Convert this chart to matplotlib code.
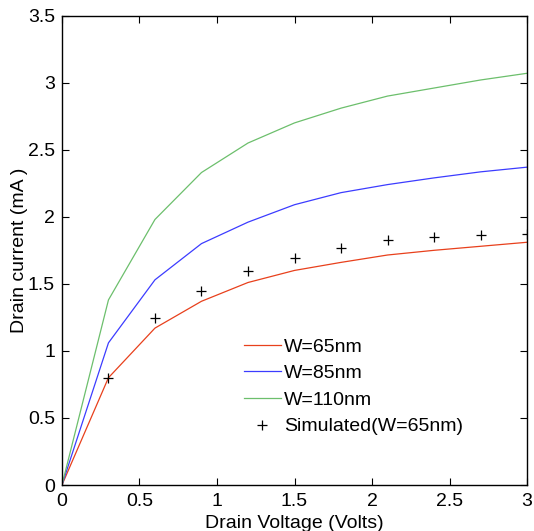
import numpy as np
from matplotlib import pyplot as plt

plt.rcParams['font.family'] = ['Liberation Sans', 'DejaVu Sans']

# drain voltage (V)
vd = [0, 0.3, 0.6, 0.9, 1.2, 1.5, 1.8, 2.1, 2.4, 2.7, 3.0]

# drain current (mA) for each width
id_65 = [0, 0.80, 1.17, 1.37, 1.51, 1.60, 1.66, 1.715, 1.75, 1.78, 1.81]
id_85 = [0, 1.06, 1.53, 1.80, 1.96, 2.09, 2.18, 2.24, 2.29, 2.335, 2.37]
id_110 = [0, 1.38, 1.98, 2.33, 2.55, 2.70, 2.81, 2.90, 2.96, 3.02, 3.07]

# simulated points (W=65nm)
vd_sim = [0.3, 0.6, 0.9, 1.2, 1.5, 1.8, 2.1, 2.4, 2.7, 3.0]
id_sim = [0.80, 1.245, 1.45, 1.595, 1.69, 1.77, 1.83, 1.85, 1.865, 1.87]

fig = plt.figure(figsize=(5.34, 5.31), dpi=100)
ax = fig.add_axes([0.116, 0.0866, 0.871, 0.884])

ax.plot(vd, id_65, color='#e8401c', lw=0.9, label='W=65nm')
ax.plot(vd, id_85, color='#3c3cff', lw=0.9, label='W=85nm')
ax.plot(vd, id_110, color='#6cbf6c', lw=0.9, label='W=110nm')
ax.plot(vd_sim, id_sim, '+', color='black', ms=7, mew=0.9, label='Simulated(W=65nm)')

ax.set_xlim(0, 3)
ax.set_ylim(0, 3.5)
ax.set_xticks(np.arange(0, 3.01, 0.5))
ax.set_yticks(np.arange(0, 3.51, 0.5))
ax.set_xticklabels(['0', '0.5', '1', '1.5', '2', '2.5', '3'])
ax.set_yticklabels(['0', '0.5', '1', '1.5', '2', '2.5', '3', '3.5'])
ax.tick_params(direction='in', top=True, right=True, labelsize=14, length=5, width=0.8)
ax.tick_params(axis='x', pad=6)
ax.tick_params(axis='y', pad=5)
for s in ax.spines.values():
    s.set_linewidth(1.0)

ax.set_xlabel('Drain Voltage (Volts)', fontsize=14, labelpad=3)
ax.set_ylabel('Drain current (mA )', fontsize=14, labelpad=0)

ax.legend(loc='upper left', bbox_to_anchor=(0.391, 0.313), frameon=False, fontsize=14,
          handlelength=1.9, handletextpad=0.15, labelspacing=0.46, borderpad=0, borderaxespad=0)

fig.savefig('out.png', dpi=100)
